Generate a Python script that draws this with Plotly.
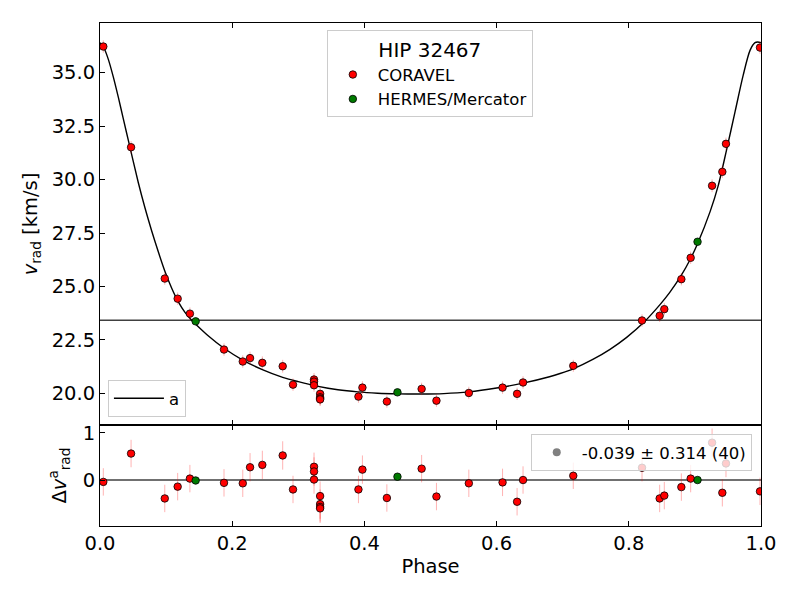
import plotly.graph_objects as go

# ---------------- data ----------------
star_name = "HIP 32467"
gamma = 23.42

cor_phase = [0.005, 0.047, 0.098, 0.1175, 0.136, 0.1876, 0.216, 0.227, 0.2456, 0.2764,
             0.292, 0.3238, 0.3238, 0.3238, 0.333, 0.333, 0.333, 0.333, 0.391, 0.397,
             0.434, 0.4866, 0.509, 0.558, 0.609, 0.631, 0.640, 0.716, 0.820, 0.8467,
             0.8537, 0.8795, 0.8936, 0.926, 0.9415, 0.947, 0.9985]
cor_vrad = [36.22, 31.51, 25.37, 24.43, 23.73, 22.05, 21.49, 21.65, 21.43, 21.27,
            20.41, 20.65, 20.55, 20.38, 19.98, 19.82, 19.76, 19.72, 19.85, 20.27,
            19.62, 20.21, 19.66, 20.02, 20.27, 19.98, 20.51, 21.29, 23.41, 23.63,
            23.94, 25.34, 26.34, 29.71, 30.36, 31.67, 36.17]
cor_err = [0.29, 0.29, 0.29, 0.29, 0.29, 0.29, 0.29, 0.30, 0.30, 0.30,
           0.29, 0.30, 0.30, 0.30, 0.31, 0.31, 0.31, 0.31, 0.29, 0.30,
           0.29, 0.29, 0.29, 0.29, 0.29, 0.29, 0.29, 0.28, 0.29, 0.29,
           0.29, 0.29, 0.29, 0.30, 0.29, 0.29, 0.29]
cor_resid = [-0.04, 0.56, -0.39, -0.14, 0.03, -0.06, -0.07, 0.27, 0.32, 0.52,
             -0.20, 0.28, 0.18, 0.01, -0.34, -0.51, -0.57, -0.60, -0.20, 0.22,
             -0.38, 0.24, -0.35, -0.07, -0.05, -0.46, 0.00, 0.09, 0.26, -0.39,
             -0.33, -0.15, 0.03, 0.79, -0.27, 0.35, -0.24]

her_phase = [0.1447, 0.450, 0.904]
her_vrad = [23.37, 20.05, 27.09]
her_err = [0.02, 0.02, 0.02]
her_resid = [-0.01, 0.07, 0.00]

model_phase = [0.000, 0.006, 0.0126, 0.0201, 0.0277, 0.0352, 0.0428, 0.058, 0.068, 0.078,
               0.0882, 0.0983, 0.1085, 0.1185, 0.1286, 0.1387, 0.1447, 0.165, 0.1876, 0.216,
               0.2456, 0.2764, 0.300, 0.330, 0.360, 0.390, 0.420, 0.450, 0.4866, 0.520,
               0.558, 0.600, 0.640, 0.680, 0.696, 0.716, 0.7463, 0.7716, 0.7968, 0.822,
               0.8472, 0.862, 0.880, 0.8926, 0.904, 0.923, 0.9354, 0.948, 0.9607, 0.973,
               0.9834, 0.991, 0.995, 1.000]
model_vrad = [36.40, 36.15, 35.62, 34.80, 33.85, 32.85, 31.84, 29.85, 28.68, 27.62,
              26.62, 25.70, 24.92, 24.28, 23.79, 23.42, 23.24, 22.66, 22.11, 21.56,
              21.11, 20.75, 20.55, 20.33, 20.17, 20.07, 20.01, 19.98, 19.97, 19.99,
              20.07, 20.25, 20.48, 20.78, 20.93, 21.15, 21.60, 22.06, 22.62, 23.30,
              24.15, 24.72, 25.55, 26.25, 27.00, 28.50, 29.73, 31.40, 33.16, 34.87,
              36.04, 36.40, 36.43, 36.40]

resid_mean = -0.039
resid_std = 0.314
n_points = 40

x_ticks = [0.0, 0.2, 0.4, 0.6, 0.8, 1.0]
y_ticks_top = [20.0, 22.5, 25.0, 27.5, 30.0, 32.5, 35.0]
y_ticks_bot = [0, 1]

# ---------------- styling ----------------
FONT = "DejaVu Sans"
RED = "#ff0000"
GREEN = "#007a00"
ERR = "rgba(255,0,0,0.3)"

fig = go.Figure()

# model curve
fig.add_trace(go.Scatter(
    x=model_phase, y=model_vrad, mode="lines",
    line=dict(color="black", width=1.4, shape="spline", smoothing=0.8),
    name="a", legend="legend2", xaxis="x", yaxis="y2"))

# CORAVEL
fig.add_trace(go.Scatter(
    x=cor_phase, y=cor_vrad, mode="markers", name="CORAVEL", legend="legend",
    error_y=dict(type="data", array=cor_err, color=ERR, thickness=1, width=0),
    marker=dict(color=RED, size=7.5, line=dict(color="black", width=0.8)),
    xaxis="x", yaxis="y2"))

# HERMES
fig.add_trace(go.Scatter(
    x=her_phase, y=her_vrad, mode="markers", name="HERMES/Mercator", legend="legend",
    error_y=dict(type="data", array=her_err, color=ERR, thickness=1, width=0),
    marker=dict(color=GREEN, size=7.5, line=dict(color="black", width=0.8)),
    xaxis="x", yaxis="y2"))

# residuals
fig.add_trace(go.Scatter(
    x=cor_phase, y=cor_resid, mode="markers", showlegend=False,
    error_y=dict(type="data", array=cor_err, color=ERR, thickness=1, width=0),
    marker=dict(color=RED, size=7.5, line=dict(color="black", width=0.8)),
    xaxis="x2", yaxis="y"))
fig.add_trace(go.Scatter(
    x=her_phase, y=her_resid, mode="markers", showlegend=False,
    error_y=dict(type="data", array=her_err, color=ERR, thickness=1, width=0),
    marker=dict(color=GREEN, size=7.5, line=dict(color="black", width=0.8)),
    xaxis="x2", yaxis="y"))

# residual statistics legend entry
fig.add_trace(go.Scatter(
    x=[None], y=[None], mode="markers",
    name=f"{resid_mean:.3f} ± {resid_std:.3f} ({n_points})", legend="legend3",
    marker=dict(color="#808080", size=8),
    xaxis="x2", yaxis="y"))

split = 0.2007

axis_common = dict(showline=True, linecolor="black", linewidth=1.1,
                   ticks="inside", ticklen=5, tickwidth=1.1, tickcolor="black",
                   showgrid=False, zeroline=False, automargin=False,
                   tickfont=dict(family=FONT, size=19.5, color="black"))

fig.update_layout(
    width=792, height=592,
    paper_bgcolor="white", plot_bgcolor="white",
    margin=dict(l=92, r=39, t=15, b=74),
    font=dict(family=FONT, color="black"),
    xaxis=dict(domain=[0, 1], range=[0, 1], anchor="y2", tickvals=x_ticks,
               showticklabels=False, mirror="ticks", **axis_common),
    yaxis2=dict(domain=[split, 1], range=[18.52, 37.32], anchor="x",
                tickvals=y_ticks_top, tickformat=".1f", mirror=True,
                title=dict(text="<i>v</i><sub>rad</sub> [km/s]",
                           font=dict(family=FONT, size=19.5), standoff=8),
                **axis_common),
    xaxis2=dict(domain=[0, 1], range=[0, 1], anchor="y", tickvals=x_ticks,
                tickformat=".1f", mirror="ticks",
                title=dict(text="Phase", font=dict(family=FONT, size=19.5), standoff=4),
                **axis_common),
    yaxis=dict(domain=[0, split], range=[-0.973, 1.163], anchor="x2",
               tickvals=y_ticks_bot, mirror=True,
               title=dict(text="Δ<i>v</i><sup>a</sup><sub>rad</sub>",
                          font=dict(family=FONT, size=19.5), standoff=10),
               **axis_common),
    legend=dict(x=0.499, y=0.9855, xanchor="center", yanchor="top",
                bgcolor="rgba(255,255,255,0.8)", bordercolor="#cccccc", borderwidth=1,
                font=dict(family=FONT, size=16.5), itemwidth=40,
                title=dict(text=star_name, side="top center",
                           font=dict(family=FONT, size=20)),
                itemsizing="trace", tracegroupgap=0),
    legend2=dict(x=0.012, y=0.2166, xanchor="left", yanchor="bottom",
                 bgcolor="rgba(255,255,255,0.8)", bordercolor="#cccccc", borderwidth=1,
                 font=dict(family=FONT, size=16.5), itemwidth=50),
    legend3=dict(x=0.986, y=0.1828, xanchor="right", yanchor="top",
                 bgcolor="rgba(255,255,255,0.8)", bordercolor="#cccccc", borderwidth=1,
                 font=dict(family=FONT, size=16.5), itemwidth=40),
    shapes=[
        dict(type="line", xref="x domain", yref="y2", x0=0, x1=1, y0=gamma, y1=gamma,
             line=dict(color="#404040", width=1.5), layer="below"),
        dict(type="line", xref="x2 domain", yref="y", x0=0, x1=1, y0=0, y1=0,
             line=dict(color="#404040", width=1.5), layer="below"),
    ],
)

fig.write_html("out.html")
